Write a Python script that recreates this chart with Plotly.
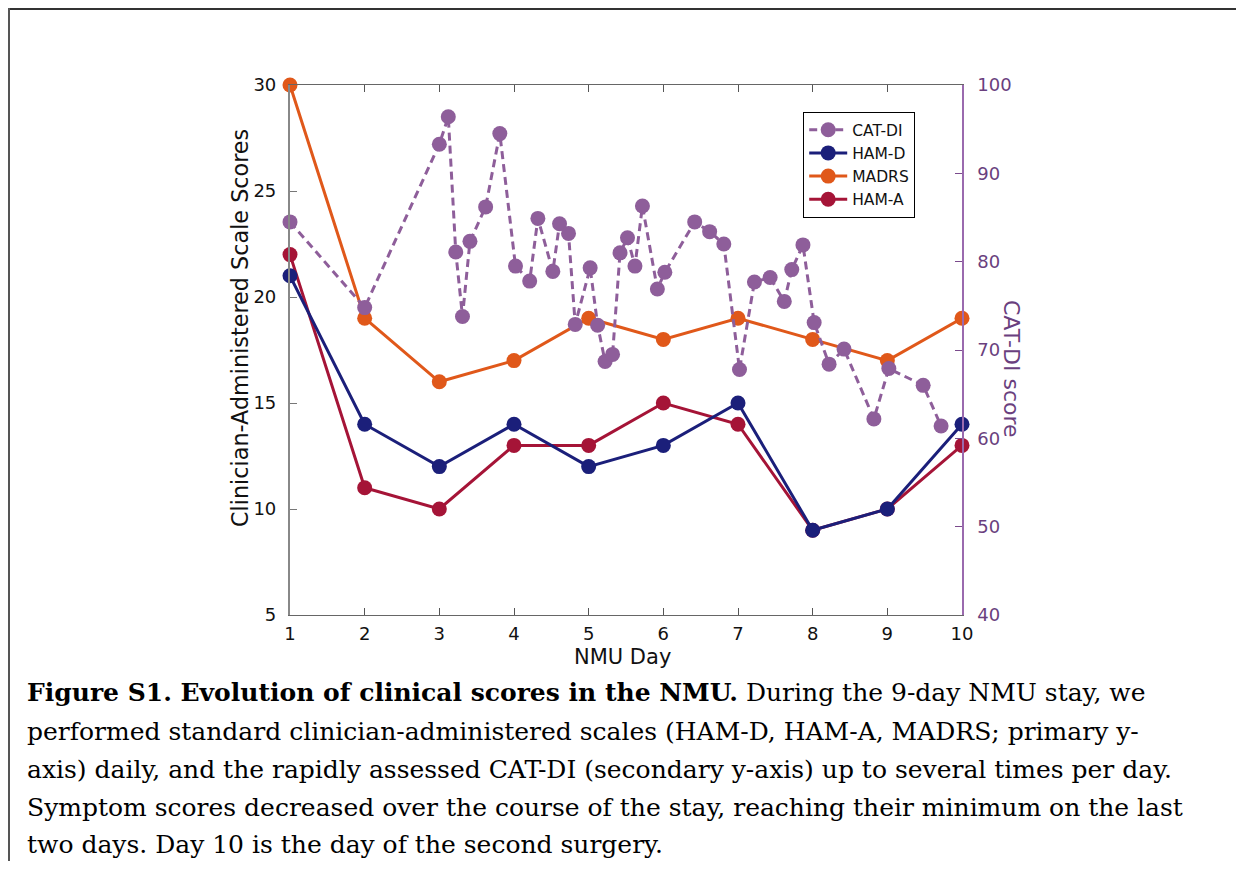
import plotly.graph_objects as go

# ---- data ----
days = [1, 2, 3, 4, 5, 6, 7, 8, 9, 10]
ham_d = [21, 14, 12, 14, 12, 13, 15, 9, 10, 14]
madrs = [30, 19, 16, 17, 19, 18, 19, 18, 17, 19]
ham_a = [22, 11, 10, 13, 13, 15, 14, 9, 10, 13]

catdi_day = [1.0, 2.0, 3.0, 3.12, 3.22, 3.31, 3.41, 3.62, 3.81, 4.02,
             4.21, 4.32, 4.52, 4.61, 4.73, 4.82, 5.02, 5.12, 5.22, 5.32,
             5.42, 5.52, 5.62, 5.72, 5.92, 6.02, 6.42, 6.62, 6.81, 7.02,
             7.22, 7.43, 7.62, 7.72, 7.87, 8.02, 8.22, 8.42, 8.82, 9.02,
             9.48, 9.72]
catdi_score = [84.5, 74.8, 93.3, 96.4, 81.1, 73.8, 82.3, 86.2, 94.5, 79.5,
               77.8, 84.9, 78.9, 84.3, 83.2, 72.9, 79.3, 72.8, 68.7, 69.5,
               81.0, 82.7, 79.5, 86.3, 76.9, 78.8, 84.5, 83.4, 82.0, 67.8,
               77.7, 78.2, 75.5, 79.1, 81.9, 73.1, 68.4, 70.1, 62.2, 67.9,
               66.0, 61.4]

x_ticks = list(range(1, 11))
y1_ticks = [5, 10, 15, 20, 25, 30]
y2_ticks = [40, 50, 60, 70, 80, 90, 100]

caption_lines = [
    "<b>Figure S1. Evolution of clinical scores in the NMU.</b> During the 9-day NMU stay, we",
    "performed standard clinician-administered scales (HAM-D, HAM-A, MADRS; primary y-",
    "axis) daily, and the rapidly assessed CAT-DI (secondary y-axis) up to several times per day.",
    "Symptom scores decreased over the course of the stay, reaching their minimum on the last",
    "two days. Day 10 is the day of the second surgery.",
]

C_PURPLE = "#8E5E9A"
C_NAVY = "#1B1F7A"
C_ORANGE = "#E0581A"
C_RED = "#A51437"
C_AX2 = "#7A4A8C"
C_AX2_TXT = "#6A3F7E"

SANS = "DejaVu Sans, Liberation Sans, Arial, sans-serif"
SERIF = "DejaVu Serif, Liberation Serif, serif"

# page is shown with an 8px body margin
OFF = 8
W, H = 1244 - 2 * OFF, 869 - 2 * OFF
# plot area in page pixels: x 290..962, y 85..615
L = 290 - OFF
T = 85 - OFF
R = W - (962 - OFF)
B = H - (615 - OFF)
pw, ph = W - L - R, H - T - B


def px2x(px):
    return (px - OFF - L) / pw


def py2y(py):
    return (T + ph - (py - OFF)) / ph


fig = go.Figure()

fig.add_trace(go.Scatter(x=days, y=ham_a, name="HAM-A", mode="lines+markers",
                         line=dict(color=C_RED, width=3), marker=dict(size=15, color=C_RED),
                         cliponaxis=False, legendrank=4))
fig.add_trace(go.Scatter(x=days, y=madrs, name="MADRS", mode="lines+markers",
                         line=dict(color=C_ORANGE, width=3), marker=dict(size=15, color=C_ORANGE),
                         cliponaxis=False, legendrank=3))
fig.add_trace(go.Scatter(x=days, y=ham_d, name="HAM-D", mode="lines+markers",
                         line=dict(color=C_NAVY, width=3), marker=dict(size=15, color=C_NAVY),
                         cliponaxis=False, legendrank=2))
fig.add_trace(go.Scatter(x=catdi_day, y=catdi_score, name="CAT-DI", mode="lines+markers",
                         line=dict(color=C_PURPLE, width=3, dash="8px,5px"),
                         marker=dict(size=15, color=C_PURPLE),
                         yaxis="y2", cliponaxis=False, legendrank=1))

tickfont = dict(family=SANS, size=18, color="#111111")

fig.update_layout(
    width=W, height=H,
    margin=dict(l=L, r=R, t=T, b=B, pad=0),
    paper_bgcolor="white", plot_bgcolor="white",
    showlegend=True,
    legend=dict(x=px2x(803), y=py2y(112), xanchor="left", yanchor="top",
                bordercolor="black", borderwidth=1.2, bgcolor="white",
                font=dict(family=SANS, size=15.5, color="#111111"),
                tracegroupgap=0, itemwidth=38),
    xaxis=dict(range=[1, 10], tickvals=x_ticks, ticks="inside", ticklen=7, tickwidth=1,
               tickcolor="#555555", showline=True, linecolor="#666666", linewidth=1.3,
               mirror="ticks", showgrid=False, zeroline=False, tickfont=tickfont,
               ticklabelstandoff=2),
    yaxis=dict(range=[5, 30], tickvals=y1_ticks, ticks="inside", ticklen=7, tickwidth=1,
               tickcolor="#777777", showline=True, linecolor="#888888", linewidth=2.2,
               showgrid=False, zeroline=False, tickfont=tickfont, ticklabelstandoff=8),
    yaxis2=dict(range=[40, 100], tickvals=y2_ticks, overlaying="y", side="right",
                ticks="inside", ticklen=7, tickwidth=1, tickcolor=C_AX2,
                showline=True, linecolor="#9A6AAE", linewidth=1.5,
                showgrid=False, zeroline=False, ticklabelstandoff=10,
                tickfont=dict(family=SANS, size=18, color=C_AX2_TXT)),
)

# axis titles as annotations for exact placement
fig.add_annotation(text="Clinician-Administered Scale Scores", xref="paper", yref="paper",
                   x=px2x(240), y=py2y(328), xanchor="center", yanchor="middle",
                   textangle=-90, showarrow=False,
                   font=dict(family=SANS, size=22.3, color="#111111"))
fig.add_annotation(text="NMU Day", xref="paper", yref="paper",
                   x=px2x(622), y=py2y(657), xanchor="center", yanchor="middle",
                   showarrow=False, font=dict(family=SANS, size=21, color="#111111"))
fig.add_annotation(text="CAT-DI score", xref="paper", yref="paper",
                   x=px2x(1012), y=py2y(369), xanchor="center", yanchor="middle",
                   textangle=90, showarrow=False,
                   font=dict(family=SANS, size=22, color=C_AX2_TXT))

# caption lines
cap_y = [692, 731, 769, 807, 844]
for txt, cy in zip(caption_lines, cap_y):
    fig.add_annotation(text=txt, xref="paper", yref="paper", x=px2x(25), y=py2y(cy),
                       xanchor="left", yanchor="middle", showarrow=False, align="left",
                       font=dict(family=SERIF, size=25, color="#000000"))

# outer border (top and left)
fig.add_shape(type="line", xref="paper", yref="paper", x0=px2x(8), x1=px2x(1236),
              y0=py2y(9), y1=py2y(9), line=dict(color="#333333", width=2))
fig.add_shape(type="line", xref="paper", yref="paper", x0=px2x(9), x1=px2x(9),
              y0=py2y(8), y1=py2y(869), line=dict(color="#555555", width=2))

fig.write_html("out.html")
